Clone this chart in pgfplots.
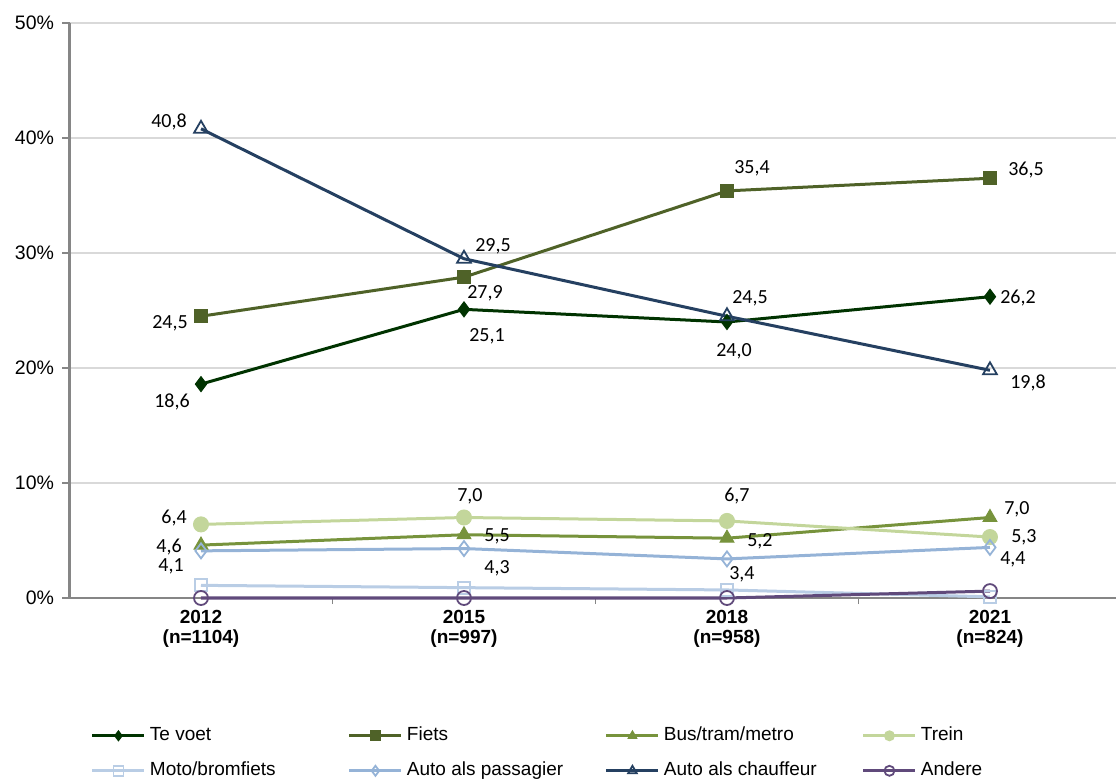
\documentclass[border=0pt]{standalone}
\usepackage{fontspec}
\setmainfont{Liberation Sans}
\newfontfamily\carlito{Carlito}
\usepackage{pgfplots}
\usepackage{pgfplotstable}
\pgfplotsset{compat=1.18}
\definecolor{cVoet}{HTML}{003300}
\definecolor{cFiets}{HTML}{4F6228}
\definecolor{cBus}{HTML}{77933C}
\definecolor{cTrein}{HTML}{C3D69B}
\definecolor{cMoto}{HTML}{B9CDE5}
\definecolor{cPass}{HTML}{95B3D7}
\definecolor{cChauf}{HTML}{254061}
\definecolor{cAndere}{HTML}{604A7B}
\definecolor{cAxis}{HTML}{868686}
\definecolor{cGrid}{HTML}{D9D9D9}

\pgfplotstableread{
x y dx dy
0 18.6 -29 -18
1 25.1 23 -27
2 24.0 7 -29
3 26.2 28 -1
}\tVoet
\pgfplotstableread{
x y dx dy
0 24.5 -31 -7
1 27.9 21 -16
2 35.4 25 23
3 36.5 36 8
}\tFiets
\pgfplotstableread{
x y dx dy
0 4.6 -32 -2
1 5.5 33 -2
2 5.2 33 -3
3 7.0 27 8.5
}\tBus
\pgfplotstableread{
x y dx dy
0 6.4 -27 6
1 7.0 6 21.5
2 6.7 10 25
3 5.3 34 0
}\tTrein
\pgfplotstableread{
x y
0 1.1
1 0.9
2 0.7
3 0.1
}\tMoto
\pgfplotstableread{
x y dx dy
0 4.1 -30 -15
1 4.3 33 -20
2 3.4 15 -15
3 4.4 23 -12
}\tPass
\pgfplotstableread{
x y dx dy
0 40.8 -32 7
1 29.5 29 12
2 24.5 23 18
3 19.8 38 -13
}\tChauf
\pgfplotstableread{
x y
0 0.0
1 0.0
2 0.0
3 0.6
}\tAndere

\pgfplotsset{
  lbl/.style={
    nodes near coords={\pgfmathprintnumber[fixed,fixed zerofill,precision=1,use comma]{\pgfplotspointmeta}},
    point meta=y,
    visualization depends on={\thisrow{dx}\as\dx},
    visualization depends on={\thisrow{dy}\as\dy},
    every node near coord/.append style={anchor=center, text=black, inner sep=0pt,
      font=\carlito\fontsize{20bp}{24bp}\selectfont, xshift=\dx bp, yshift=\dy bp},
  },
  ser/.style={color=#1, line width=3bp},
}

\begin{document}
\begin{tikzpicture}
\useasboundingbox (0,0) rectangle (1116bp,781bp);
\begin{axis}[
  at={(69.5bp,183bp)}, anchor=south west,
  scale only axis, width=1046.7bp, height=575bp,
  xmin=-0.5, xmax=3.48, ymin=0, ymax=50,
  axis x line*=bottom, axis y line*=left,
  x axis line style={color=cAxis, line width=2.5bp},
  y axis line style={color=cAxis, line width=2bp},
  clip=false,
  tick align=outside,
  xtick={0,1,2,3},
  xticklabels={{2012\\(n=1104)},{2015\\(n=997)},{2018\\(n=958)},{2021\\(n=824)}},
  major x tick style={draw=none},
  minor xtick={0.5,1.5,2.5},
  minor x tick style={color=cAxis, line width=1.5bp},
  minor tick length=6bp,
  ytick={0,10,20,30,40,50},
  major tick length=7bp,
  major y tick style={color=cAxis, line width=1.5bp},
  ymajorgrids,
  major grid style={color=cGrid, line width=1.5bp},
  /pgf/number format/assume math mode=true,
  yticklabel={\pgfmathprintnumber{\tick}\%},
  yticklabel style={font=\fontsize{19.5bp}{20bp}\selectfont, xshift=-5bp},
  xticklabel style={align=center, font=\bfseries\fontsize{19bp}{20bp}\selectfont, yshift=-2bp},
  legend columns=4,
  legend style={at={(0.0205,-0.224)}, anchor=north west, draw=none, fill=none,
    inner sep=0pt, outer sep=0pt, font=\fontsize{19bp}{22bp}\selectfont,
    /tikz/every odd column/.style={column sep=4bp},
    row sep=17bp,
    nodes={inner sep=0pt, text height=14bp, text depth=4bp}},
  legend cell align=left,
  legend image code/.code={\draw[mark repeat=2,mark phase=2,#1,mark size=5bp] plot coordinates {(0bp,0bp) (26bp,0bp) (52bp,0bp)};},
]
\addplot[ser=cVoet, mark=diamond*, mark size=7.5bp, mark options={solid, line width=1bp}, lbl] table[x=x,y=y] {\tVoet};
\addlegendentry{\makebox[198bp][l]{Te voet}}
\addplot[ser=cFiets, mark=square*, mark size=6.5bp, mark options={solid, line width=1bp}, lbl] table[x=x,y=y] {\tFiets};
\addlegendentry{\makebox[198bp][l]{Fiets}}
\addplot[ser=cBus, mark=triangle*, mark size=8bp, mark options={solid, line width=1bp}, lbl] table[x=x,y=y] {\tBus};
\addlegendentry{\makebox[198bp][l]{Bus/tram/metro}}
\addplot[ser=cTrein, mark=*, mark size=7.5bp, mark options={solid, line width=1bp}, lbl] table[x=x,y=y] {\tTrein};
\addlegendentry{\makebox[198bp][l]{Trein}}
\addplot[ser=cMoto, mark=square, mark size=6bp, mark options={solid, line width=1.8bp, fill=white}] table[x=x,y=y] {\tMoto};
\addlegendentry{\makebox[198bp][l]{Moto/bromfiets}}
\addplot[ser=cPass, mark=diamond, mark size=7.5bp, mark options={solid, line width=1.8bp, fill=white}, lbl] table[x=x,y=y] {\tPass};
\addlegendentry{\makebox[198bp][l]{Auto als passagier}}
\addplot[ser=cChauf, mark=triangle, mark size=8bp, mark options={solid, line width=1.8bp, fill=white}, lbl] table[x=x,y=y] {\tChauf};
\addlegendentry{\makebox[198bp][l]{Auto als chauffeur}}
\addplot[ser=cAndere, mark=o, mark size=7bp, mark options={solid, line width=1.8bp, fill=white}] table[x=x,y=y] {\tAndere};
\addlegendentry{\makebox[198bp][l]{Andere}}
\end{axis}
\end{tikzpicture}
\end{document}
